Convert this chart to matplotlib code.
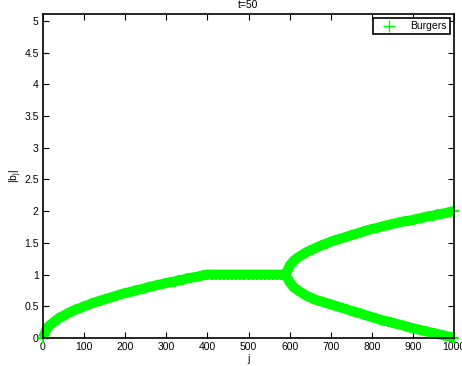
import numpy as np
import matplotlib
matplotlib.use('Agg')
import matplotlib.pyplot as plt
from matplotlib.lines import Line2D

plt.rcParams['font.family'] = ['Liberation Sans', 'DejaVu Sans']
plt.rcParams['mathtext.default'] = 'regular'

# main branch: j = 0..1000 step 10 (upper path)
j_main = np.arange(0, 1001, 10)
b_main = [0.00, 0.16, 0.22, 0.27, 0.32, 0.35, 0.39, 0.42, 0.45, 0.47,
          0.50, 0.52, 0.55, 0.57, 0.59, 0.61, 0.63, 0.65, 0.67, 0.69,
          0.71, 0.72, 0.74, 0.76, 0.77, 0.79, 0.81, 0.82, 0.84, 0.85,
          0.87, 0.88, 0.89, 0.91, 0.92, 0.94, 0.95, 0.96, 0.97, 0.99,
          1.00, 1.00, 1.00, 1.00, 1.00, 1.00, 1.00, 1.00, 1.00, 1.00,
          1.00, 1.00, 1.00, 1.00, 1.00, 1.00, 1.00, 1.00, 1.00, 1.00,
          1.14, 1.22, 1.27, 1.31, 1.35, 1.38, 1.41, 1.44, 1.47, 1.49,
          1.52, 1.54, 1.56, 1.58, 1.60, 1.62, 1.64, 1.66, 1.68, 1.70,
          1.72, 1.73, 1.75, 1.77, 1.78, 1.80, 1.81, 1.83, 1.84, 1.85,
          1.86, 1.88, 1.89, 1.91, 1.92, 1.93, 1.95, 1.96, 1.97, 1.99,
          2.00]

# lower branch after the split at j=590
j_low = np.arange(590, 1001, 10)
b_low = [1.00,
         0.88, 0.80, 0.75, 0.71, 0.67, 0.64, 0.61, 0.59, 0.57, 0.55,
         0.53, 0.51, 0.49, 0.47, 0.45, 0.43, 0.41, 0.39, 0.37, 0.35,
         0.33, 0.31, 0.29, 0.27, 0.26, 0.24, 0.22, 0.21, 0.19, 0.17,
         0.15, 0.14, 0.12, 0.11, 0.09, 0.08, 0.06, 0.05, 0.03, 0.02,
         0.00]

green = (0, 1, 0)
fig = plt.figure(figsize=(4.62, 3.66), dpi=100)
ax = fig.add_axes([0.093, 0.0765, 0.89, 0.8855])

for jj, bb in [(j_main, b_main), (j_low, b_low)]:
    ax.plot(jj, bb, color=green, linewidth=7.2, solid_capstyle='butt',
            solid_joinstyle='round', clip_on=False)
    ax.plot(jj, bb, '+', color=green, markersize=7.5, markeredgewidth=1.5,
            clip_on=False)

ax.set_xlim(0, 1000)
ax.set_ylim(0, 5.11)
ax.set_xticks(np.arange(0, 1001, 100))
ax.set_yticks(np.arange(0, 5.01, 0.5))
ax.set_yticklabels(['0', '0.5', '1', '1.5', '2', '2.5', '3', '3.5', '4', '4.5', '5'])
ax.tick_params(direction='in', top=True, right=True, length=4, width=0.8,
               labelsize=7.5, pad=3)
for s in ax.spines.values():
    s.set_linewidth(1.2)

ax.set_xlabel('j', fontsize=7.5, labelpad=1)
ax.set_ylabel('|b$_j$|', fontsize=7.5, labelpad=0.5)
ax.set_title('t=50', fontsize=7.5, pad=4)

h = Line2D([], [], color=green, marker='+', linestyle='none', markersize=9,
           markeredgewidth=1)
leg = ax.legend([h], ['Burgers'], loc='upper right', fontsize=7.5,
                fancybox=False, framealpha=1, edgecolor='black',
                borderaxespad=0.4, handlelength=2.5, borderpad=0.3)
leg.get_frame().set_linewidth(1.2)

fig.savefig('out.png', dpi=100)
